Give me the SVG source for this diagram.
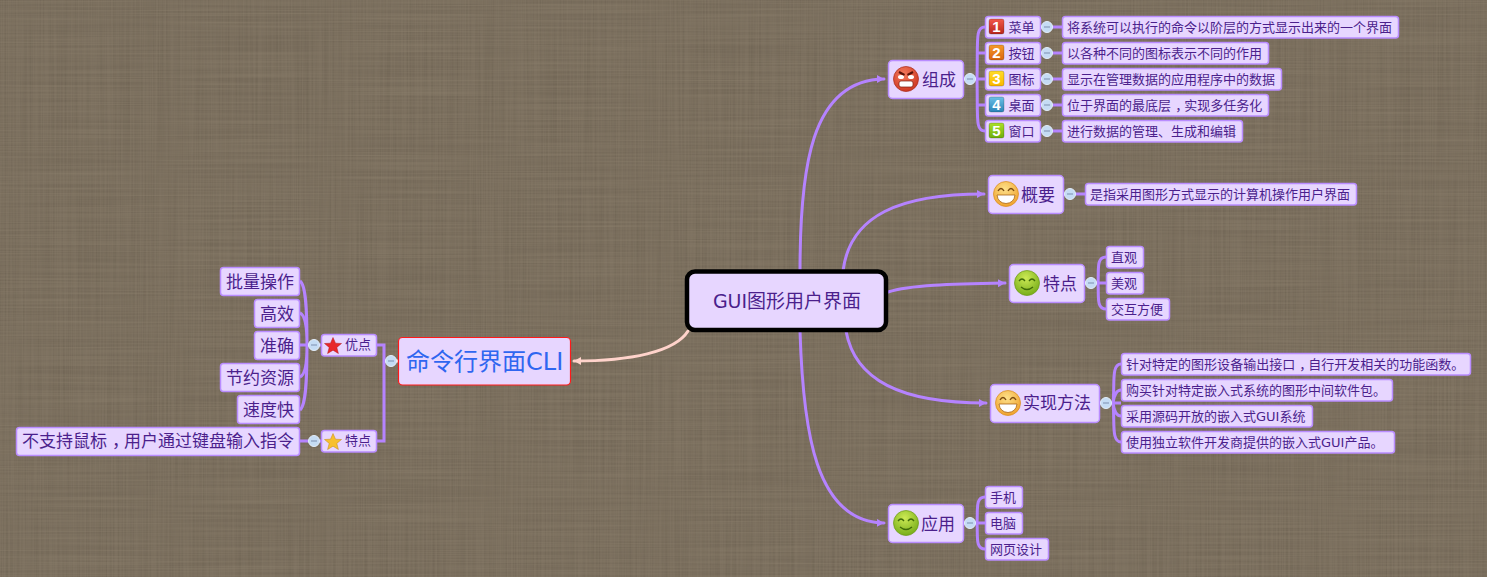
<svg xmlns="http://www.w3.org/2000/svg" width="1487" height="577" viewBox="0 0 1487 577">
<style>
text{font-family:"DejaVu Sans","Noto Sans CJK SC",sans-serif;fill:#4b1f8c}
.n rect.b{fill:#e7d6ff;stroke:#b98cff;stroke-width:1.500}
.t13{font-size:13px}.t17{font-size:17px}
.c{fill:none;stroke:#b583ff;stroke-width:3;stroke-linecap:round}
.k{fill:none;stroke:#b583ff;stroke-width:3}
.tg circle{fill:#c5dcf4;stroke:#e3eefa;stroke-width:1}
.tg line{stroke:#7d8fb0;stroke-width:1}
.num{font-family:"Liberation Sans",sans-serif;font-weight:700;font-size:15px;fill:#fff;text-anchor:middle}
.bd{stroke-width:.6;stroke:#00000055}
</style>
<defs>
<filter id="linen" x="0" y="0" width="100%" height="100%" color-interpolation-filters="sRGB">
<feTurbulence type="fractalNoise" baseFrequency="0.6 0.006" numOctaves="2" seed="4" result="h"/>
<feColorMatrix in="h" type="matrix" values="0 0 0 0 0.38  0 0 0 0 0.34  0 0 0 0 0.28  0.7 0 0 0 -0.22" result="hc"/>
<feTurbulence type="fractalNoise" baseFrequency="0.006 0.6" numOctaves="2" seed="9" result="v"/>
<feColorMatrix in="v" type="matrix" values="0 0 0 0 0.58  0 0 0 0 0.53  0 0 0 0 0.45  0.7 0 0 0 -0.22" result="vc"/>
<feMerge><feMergeNode in="SourceGraphic"/><feMergeNode in="hc"/><feMergeNode in="vc"/></feMerge>
</filter>
<marker id="ar" markerUnits="userSpaceOnUse" markerWidth="9" markerHeight="9" refX="7" refY="4" orient="auto"><path d="M0 0L7 4L0 8z" fill="#b583ff"/></marker>
<marker id="arp" markerUnits="userSpaceOnUse" markerWidth="9" markerHeight="9" refX="7" refY="4" orient="auto"><path d="M0 0L7 4L0 8z" fill="#ffd3cb"/></marker>
<radialGradient id="fr" cx=".4" cy=".3" r=".8"><stop offset="0" stop-color="#f47a5c"/><stop offset="1" stop-color="#c9301c"/></radialGradient>
<radialGradient id="fy" cx=".45" cy=".3" r=".8"><stop offset="0" stop-color="#fde08a"/><stop offset="1" stop-color="#ee9a20"/></radialGradient>
<radialGradient id="fg" cx=".45" cy=".3" r=".8"><stop offset="0" stop-color="#cdea55"/><stop offset="1" stop-color="#6ba512"/></radialGradient>
<linearGradient id="n1" x1="0" y1="0" x2="0" y2="1"><stop offset="0" stop-color="#f2584a"/><stop offset="1" stop-color="#b8261c"/></linearGradient>
<linearGradient id="n2" x1="0" y1="0" x2="0" y2="1"><stop offset="0" stop-color="#f59a2a"/><stop offset="1" stop-color="#d9640f"/></linearGradient>
<linearGradient id="n3" x1="0" y1="0" x2="0" y2="1"><stop offset="0" stop-color="#ffdc2a"/><stop offset="1" stop-color="#fbb800"/></linearGradient>
<linearGradient id="n4" x1="0" y1="0" x2="0" y2="1"><stop offset="0" stop-color="#6cc0e6"/><stop offset="1" stop-color="#2a83b8"/></linearGradient>
<linearGradient id="n5" x1="0" y1="0" x2="0" y2="1"><stop offset="0" stop-color="#abe02a"/><stop offset="1" stop-color="#6fae0c"/></linearGradient>
<g id="toggle" class="tg"><circle r="5.5"/><line x1="-3" x2="3"/></g>
<g id="grin"><circle r="12.5" fill="url(#fy)" stroke="#d98a1a" stroke-width=".7"/><path d="M-8 -3Q-5 -8 -2 -3M2 -3Q5 -8 8 -3" fill="none" stroke="#7a4a10" stroke-width="1.4"/><path d="M-9 1H9Q8 9 0 9.5Q-8 9 -9 1z" fill="#fff" stroke="#a8641a" stroke-width=".8"/></g>
<g id="smile"><circle r="12.5" fill="url(#fg)" stroke="#6a9a14" stroke-width=".7"/><path d="M-8 -2Q-5 -6 -2 -2M2 -2Q5 -6 8 -2" fill="none" stroke="#3f6a08" stroke-width="1.300"/><path d="M-6 4Q0 9 6 4" fill="none" stroke="#3f6a08" stroke-width="1.300"/></g>
<polygon id="star" points="0,-8.500 2.500,-2.800 8.500,-2.500 3.800,1.400 5.400,7.500 0,4.200 -5.400,7.500 -3.800,1.400 -8.500,-2.500 -2.500,-2.800"/>
</defs>
<rect width="1487" height="577" fill="#7b6f5e" filter="url(#linen)"/>

<g id="connectors">
<path class="c" d="M800 271C800 170 810 80 884 79" marker-end="url(#ar)"/>
<path class="c" d="M843 271C850 215 900 194 984 194" marker-end="url(#ar)"/>
<path class="c" d="M888 292C910 285 950 284 1005 283" marker-end="url(#ar)"/>
<path class="c" d="M846 331C855 380 900 403 986 403" marker-end="url(#ar)"/>
<path class="c" d="M800 331C803 430 815 522 884 523" marker-end="url(#ar)"/>
<path class="c" d="M688 331C675 352 630 361 574 361" style="stroke:#ffd3cb" marker-end="url(#arp)"/>
<path class="k" d="M964 79H985M985 27C975 27 978 40 977 79C978 118 975 131 985 131M977 53H985M977 105H985"/>
<path class="k" d="M1041 27H1062M1041 53H1062M1041 79H1062M1041 105H1062M1041 131H1062M1064 194H1085"/>
<path class="k" d="M1085 283H1106M1106 257C1096 257 1099 270 1098 283C1099 296 1096 309 1106 309"/>
<path class="k" d="M1100 403H1121M1121 364C1111 364 1115 385 1113 403C1115 421 1111 442 1121 442M1121 390C1116 390 1114 396 1113 403C1114 410 1116 416 1121 416"/>
<path class="k" d="M964 523H985M985 497C975 497 978 510 977 523C978 536 975 549 985 549"/>
<path class="k" d="M385 361H398" style="stroke:#ffd3cb"/>
<path class="k" d="M377 345H384V441H377"/>
<path class="k" d="M300 345H321M300 441H321"/>
<path class="k" d="M300 281C306 285 307 310 307 345C307 380 306 405 300 410M300 313C305 315 307 325 307 345C307 365 305 375 300 377"/>
</g>

<g id="root" class="n"><rect x="687" y="271.500" width="199" height="58.500" rx="8" fill="#e7d6ff" stroke="#000" stroke-width="4.500"/><text x="787" y="308" text-anchor="middle" style="font-size:19px">GUI图形用户界面</text></g>

<g id="zucheng" class="n"><rect class="b" x="888.500" y="60.500" width="75" height="38" rx="4"/><circle cx="906" cy="79" r="12.500" fill="url(#fr)" stroke="#a82a18" stroke-width=".7"/><path d="M899 72L904.500 75M913 72L907.500 75" stroke="#5a1208" stroke-width="2"/><ellipse cx="901" cy="77" rx="3" ry="2" fill="#fff"/><ellipse cx="911" cy="77" rx="3" ry="2" fill="#fff"/><rect x="899" y="81" width="14" height="6" rx="2" fill="#fff" stroke="#7a1a0c" stroke-width=".7"/><text class="t17" x="922" y="85.500">组成</text></g>
<use href="#toggle" x="970" y="79"/>
<g id="menu" class="n"><rect class="b" x="985.500" y="16.500" width="55" height="21.500" rx="3"/><rect class="bd" x="989" y="19" width="15" height="15" rx="2" fill="url(#n1)"/><text class="num" x="996.500" y="32">1</text><text class="t13" x="1008.500" y="32">菜单</text></g>
<g id="button" class="n"><rect class="b" x="985.500" y="42.500" width="55" height="21.500" rx="3"/><rect class="bd" x="989" y="45" width="15" height="15" rx="2" fill="url(#n2)"/><text class="num" x="996.500" y="58">2</text><text class="t13" x="1008.500" y="58">按钮</text></g>
<g id="icon" class="n"><rect class="b" x="985.500" y="68.500" width="55" height="21.500" rx="3"/><rect class="bd" x="989" y="71" width="15" height="15" rx="2" fill="url(#n3)"/><text class="num" x="996.500" y="84">3</text><text class="t13" x="1008.500" y="84">图标</text></g>
<g id="desktop" class="n"><rect class="b" x="985.500" y="94.500" width="55" height="21.500" rx="3"/><rect class="bd" x="989" y="97" width="15" height="15" rx="2" fill="url(#n4)"/><text class="num" x="996.500" y="110">4</text><text class="t13" x="1008.500" y="110">桌面</text></g>
<g id="window" class="n"><rect class="b" x="985.500" y="120.500" width="55" height="21.500" rx="3"/><rect class="bd" x="989" y="123" width="15" height="15" rx="2" fill="url(#n5)"/><text class="num" x="996.500" y="136">5</text><text class="t13" x="1008.500" y="136">窗口</text></g>
<use href="#toggle" x="1047" y="27"/><use href="#toggle" x="1047" y="53"/><use href="#toggle" x="1047" y="79"/><use href="#toggle" x="1047" y="105"/><use href="#toggle" x="1047" y="131"/>
<g id="l1" class="n"><rect class="b" x="1062.500" y="16.500" width="336" height="21.500" rx="3"/><text class="t13" x="1067" y="32">将系统可以执行的命令以阶层的方式显示出来的一个界面</text></g>
<g id="l2" class="n"><rect class="b" x="1062.500" y="42.500" width="206" height="21.500" rx="3"/><text class="t13" x="1067" y="58">以各种不同的图标表示不同的作用</text></g>
<g id="l3" class="n"><rect class="b" x="1062.500" y="68.500" width="219" height="21.500" rx="3"/><text class="t13" x="1067" y="84">显示在管理数据的应用程序中的数据</text></g>
<g id="l4" class="n"><rect class="b" x="1062.500" y="94.500" width="206" height="21.500" rx="3"/><text class="t13" x="1067" y="110" dx="0 0 0 0 0 0 0 0 4 -4">位于界面的最底层，实现多任务化</text></g>
<g id="l5" class="n"><rect class="b" x="1062.500" y="120.500" width="180" height="21.500" rx="3"/><text class="t13" x="1067" y="136">进行数据的管理、生成和编辑</text></g>

<g id="gaiyao" class="n"><rect class="b" x="988.500" y="175.500" width="75" height="38" rx="4"/><use href="#grin" x="1006" y="194"/><text class="t17" x="1021" y="201">概要</text></g>
<use href="#toggle" x="1070" y="194"/>
<g id="gaiyao1" class="n"><rect class="b" x="1085.500" y="183.500" width="271" height="21.500" rx="3"/><text class="t13" x="1090" y="199">是指采用图形方式显示的计算机操作用户界面</text></g>

<g id="tedian" class="n"><rect class="b" x="1009.500" y="264.500" width="75" height="38" rx="4"/><use href="#smile" x="1027" y="283"/><text class="t17" x="1043" y="290">特点</text></g>
<use href="#toggle" x="1091" y="283"/>
<g id="td1" class="n"><rect class="b" x="1106.500" y="246.500" width="37" height="21.500" rx="3"/><text class="t13" x="1111" y="262">直观</text></g>
<g id="td2" class="n"><rect class="b" x="1106.500" y="272.500" width="37" height="21.500" rx="3"/><text class="t13" x="1111" y="288">美观</text></g>
<g id="td3" class="n"><rect class="b" x="1106.500" y="298.500" width="63" height="21.500" rx="3"/><text class="t13" x="1111" y="314">交互方便</text></g>

<g id="shixian" class="n"><rect class="b" x="990.500" y="384.500" width="109" height="38" rx="4"/><use href="#grin" x="1008" y="403"/><text class="t17" x="1023" y="409">实现方法</text></g>
<use href="#toggle" x="1106" y="403"/>
<g id="sx1" class="n"><rect class="b" x="1121.500" y="353.500" width="349" height="21.500" rx="3"/><text class="t13" x="1126" y="369" dx="0 0 0 0 0 0 0 0 0 0 0 0 0 4 -4">针对特定的图形设备输出接口，自行开发相关的功能函数。</text></g>
<g id="sx2" class="n"><rect class="b" x="1121.500" y="379.500" width="271" height="21.500" rx="3"/><text class="t13" x="1126" y="395">购买针对特定嵌入式系统的图形中间软件包。</text></g>
<g id="sx3" class="n"><rect class="b" x="1121.500" y="405.500" width="191" height="21.500" rx="3"/><text class="t13" x="1126" y="421">采用源码开放的嵌入式GUI系统</text></g>
<g id="sx4" class="n"><rect class="b" x="1121.500" y="431.500" width="273" height="21.500" rx="3"/><text class="t13" x="1126" y="447">使用独立软件开发商提供的嵌入式GUI产品。</text></g>

<g id="yingyong" class="n"><rect class="b" x="888.500" y="504.500" width="75" height="38" rx="4"/><use href="#smile" x="906" y="523"/><text class="t17" x="921" y="529.500">应用</text></g>
<use href="#toggle" x="970" y="523"/>
<g id="yy1" class="n"><rect class="b" x="985.500" y="486.500" width="37" height="21.500" rx="3"/><text class="t13" x="990" y="502">手机</text></g>
<g id="yy2" class="n"><rect class="b" x="985.500" y="512.500" width="37" height="21.500" rx="3"/><text class="t13" x="990" y="528">电脑</text></g>
<g id="yy3" class="n"><rect class="b" x="985.500" y="538.500" width="63" height="21.500" rx="3"/><text class="t13" x="990" y="554">网页设计</text></g>

<g id="cli" class="n"><rect x="398.500" y="337.500" width="172" height="47.500" rx="4" fill="#e7d6ff" stroke="#ff1a1a" stroke-width="1.200"/><text x="406" y="369.500" style="font-size:24px;fill:#2f66f0">命令行界面CLI</text></g>
<use href="#toggle" x="391" y="361"/>
<g id="youdian" class="n"><rect class="b" x="321.500" y="334.500" width="55" height="21.500" rx="3"/><use href="#star" x="333" y="346" fill="#e8262a" stroke="#b0181c" stroke-width=".5"/><text class="t13" x="345" y="349">优点</text></g>
<g id="tedian2" class="n"><rect class="b" x="321.500" y="430.500" width="55" height="21.500" rx="3"/><use href="#star" x="333" y="442" fill="#f7c02e" stroke="#c08a10" stroke-width=".5"/><text class="t13" x="345" y="445">特点</text></g>
<use href="#toggle" x="314" y="345"/><use href="#toggle" x="314" y="441"/>
<g id="c1" class="n"><rect class="b" x="220.500" y="267.500" width="79" height="28" rx="3"/><text class="t17" x="226" y="288">批量操作</text></g>
<g id="c2" class="n"><rect class="b" x="254.500" y="299.500" width="45" height="28" rx="3"/><text class="t17" x="260" y="320">高效</text></g>
<g id="c3" class="n"><rect class="b" x="254.500" y="331.500" width="45" height="28" rx="3"/><text class="t17" x="260" y="351.500">准确</text></g>
<g id="c4" class="n"><rect class="b" x="220.500" y="363.500" width="79" height="28" rx="3"/><text class="t17" x="226" y="383.500">节约资源</text></g>
<g id="c5" class="n"><rect class="b" x="237.500" y="395.500" width="62" height="28" rx="3"/><text class="t17" x="243" y="415.500">速度快</text></g>
<g id="c6" class="n"><rect class="b" x="16.500" y="427.500" width="283" height="28" rx="3"/><text class="t17" x="22" y="447" dx="0 0 0 0 0 5 -5">不支持鼠标，用户通过键盘输入指令</text></g>
</svg>
